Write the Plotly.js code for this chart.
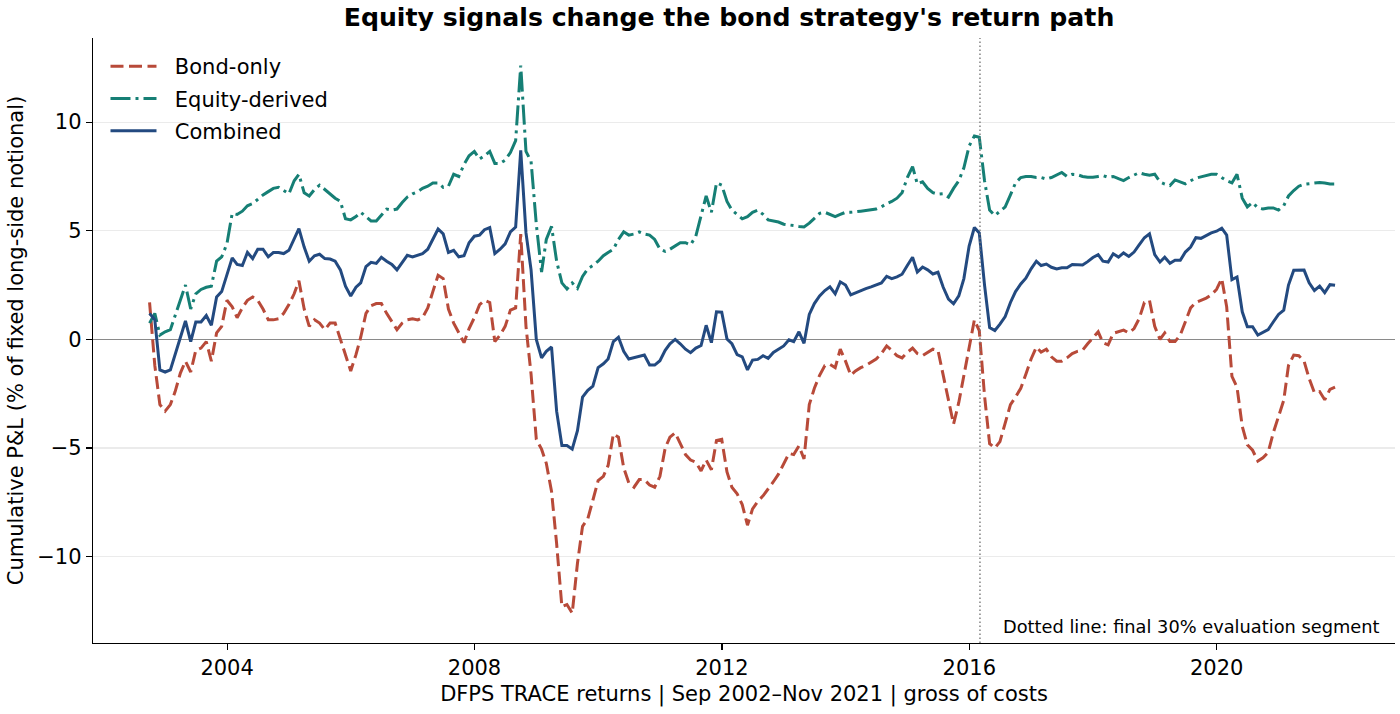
<!DOCTYPE html>
<html>
<head>
<meta charset="utf-8">
<script src="https://cdn.plot.ly/plotly-3.0.1.min.js"></script>
<style>
  html, body { margin: 0; padding: 0; background: #fff; }
  #grafico { width: 1400px; height: 714px; }
</style>
</head>
<body>
<div id="grafico"></div>
<script>
// monthly cumulative P&L, Sep 2002 .. Nov 2021 (month-end)
const primeiroAno = 2002;
const primeiroMes = 9;
const totalMeses = 231;

const bondOnly = [
	1.7, -1.2, -3.0, -3.3,
	-3.0, -2.4, -1.55, -1.0, -1.5, -0.5, -0.4, -0.1, -1.0, 0.3, 0.6, 1.8,
	1.5, 1.0, 1.45, 1.8, 1.95, 1.8, 1.4, 0.9, 0.9, 0.95, 1.2, 1.6,
	2.1, 2.7, 1.4, 0.6, 0.9, 0.75, 0.45, 0.75, 0.75, 0.0, -0.8, -1.45,
	-0.7, 0.1, 1.2, 1.55, 1.65, 1.65, 1.2, 0.8, 0.45, 0.75, 0.9, 0.95,
	0.9, 1.0, 1.45, 2.2, 2.95, 2.8, 1.4, 0.75, 0.3, -0.15, 0.5, 1.0,
	1.6, 1.8, 1.7, -0.1, 0.2, 0.6, 1.35, 1.45, 4.85, 0.6, -1.6, -4.6,
	-5.05, -5.7, -7.0, -9.4, -12.3, -12.2, -12.6, -10.3, -8.6, -8.25, -7.4, -6.5,
	-6.3, -5.8, -4.35, -4.5, -5.9, -6.6, -6.8, -6.45, -6.45, -6.7, -6.8, -6.3,
	-5.0, -4.5, -4.3, -4.8, -5.3, -5.55, -5.65, -6.05, -5.55, -6.0, -4.65, -4.6,
	-6.1, -6.8, -7.1, -7.6, -8.55, -7.8, -7.45, -7.2, -6.9, -6.55, -6.2, -5.7,
	-5.25, -5.3, -4.9, -5.5, -3.0, -2.25, -1.65, -1.2, -1.15, -1.3, -0.45, -1.0,
	-1.65, -1.45, -1.3, -1.2, -1.05, -0.9, -0.65, -0.3, -0.5, -0.75, -0.85, -0.6,
	-0.4, -0.65, -0.75, -0.6, -0.45, -0.5, -1.7, -2.8, -3.9, -2.9, -1.6, -0.3,
	0.9, 0.4, -2.6, -4.8, -5.0, -4.7, -3.85, -3.0, -2.65, -2.25, -1.6, -0.9,
	-0.35, -0.58, -0.45, -0.8, -1.0, -1.0, -0.85, -0.65, -0.55, -0.5, -0.2, 0.1,
	0.35, -0.15, -0.25, 0.28, 0.35, 0.43, 0.3, 0.5, 0.95, 1.7, 1.8, 0.6,
	0.0, 0.3, -0.1, -0.1, 0.2, 0.85, 1.45, 1.7, 1.8, 1.9, 2.05, 2.3,
	2.8, 1.5, -1.7, -2.2, -4.0, -4.85, -5.1, -5.6, -5.45, -5.2, -4.3, -3.6,
	-2.8, -1.2, -0.72, -0.75, -1.0, -1.8, -2.45, -2.4, -2.78, -2.3, -2.2
];

const equityDerived = [
	0.75, 1.2, 0.2, 0.35,
	0.45, 1.1, 1.8, 2.5, 1.4, 2.1, 2.3, 2.4, 2.45, 3.6, 3.8, 4.4,
	5.8, 5.75, 5.9, 6.15, 6.25, 6.45, 6.65, 6.8, 6.95, 7.0, 6.85, 6.7,
	7.3, 7.6, 6.75, 6.6, 6.9, 7.1, 6.9, 6.7, 6.5, 6.35, 5.55, 5.5,
	5.65, 5.85, 5.65, 5.45, 5.45, 5.7, 6.0, 5.95, 6.0, 6.3, 6.55, 6.7,
	6.8, 6.95, 7.05, 7.2, 7.2, 7.0, 7.05, 7.6, 7.5, 8.05, 8.45, 8.65,
	8.3, 8.45, 8.65, 8.1, 8.1, 8.25, 8.6, 9.15, 12.6, 8.65, 8.2, 5.3,
	3.1, 4.6, 5.2, 3.6, 2.6, 2.32, 2.6, 2.35, 2.9, 3.25, 3.4, 3.6,
	3.85, 4.0, 4.15, 4.6, 4.95, 4.8, 4.85, 4.95, 4.85, 4.8, 4.6, 4.15,
	4.05, 4.15, 4.3, 4.45, 4.45, 4.35, 4.75, 5.7, 6.6, 5.85, 7.2, 7.1,
	6.35, 5.95, 5.75, 5.55, 5.65, 5.85, 5.95, 5.75, 5.5, 5.45, 5.4, 5.3,
	5.28, 5.24, 5.2, 5.17, 5.35, 5.55, 5.8, 5.85, 5.75, 5.65, 5.75, 5.85,
	5.85, 5.86, 5.9, 5.93, 5.95, 6.0, 6.1, 6.25, 6.35, 6.5, 6.75, 7.45,
	7.95, 7.15, 7.25, 6.95, 6.75, 6.68, 6.7, 6.55, 6.95, 7.3, 7.9, 8.9,
	9.36, 9.3, 7.3, 5.95, 5.7, 5.9, 6.1, 6.65, 7.2, 7.45, 7.5, 7.5,
	7.45, 7.45, 7.38, 7.45, 7.58, 7.68, 7.5, 7.6, 7.58, 7.5, 7.46, 7.46,
	7.5, 7.54, 7.46, 7.5, 7.4, 7.31, 7.45, 7.58, 7.67, 7.6, 7.55, 7.6,
	7.25, 7.15, 7.08, 7.34, 7.25, 7.16, 7.3, 7.42, 7.48, 7.53, 7.6, 7.6,
	7.45, 7.3, 7.2, 7.6, 6.5, 6.1, 6.3, 6.05, 6.0, 6.05, 6.05, 5.95,
	6.15, 6.6, 6.85, 7.05, 7.14, 7.17, 7.19, 7.22, 7.2, 7.15, 7.15
];

const combined = [
	1.2, 0.9, -1.4, -1.5,
	-1.4, -0.7, 0.0, 0.85, -0.1, 0.8, 0.8, 1.1, 0.65, 1.95, 2.2, 3.0,
	3.75, 3.45, 3.4, 4.0, 3.72, 4.15, 4.15, 3.8, 4.0, 4.0, 3.95, 4.1,
	4.6, 5.1, 4.25, 3.6, 3.85, 3.92, 3.72, 3.7, 3.6, 3.2, 2.45, 2.0,
	2.4, 2.6, 3.35, 3.55, 3.5, 3.78, 3.6, 3.45, 3.2, 3.55, 3.87, 3.8,
	3.87, 3.95, 4.15, 4.6, 5.08, 4.86, 4.0, 4.1, 3.8, 3.85, 4.45, 4.75,
	4.8, 5.05, 5.15, 3.95, 4.15, 4.4, 4.95, 5.17, 8.7, 4.9, 3.2, 0.0,
	-0.85, -0.55, -0.35, -3.3, -4.88, -4.88, -5.05, -4.2, -2.65, -2.34, -2.15, -1.3,
	-1.12, -0.9, -0.1, 0.1, -0.55, -0.9, -0.85, -0.78, -0.72, -1.18, -1.18, -0.98,
	-0.5, -0.2, 0.0, -0.2, -0.45, -0.61, -0.4, -0.28, 0.65, -0.15, 1.27, 1.25,
	0.02, -0.2, -0.7, -0.8, -1.4, -0.95, -0.92, -0.75, -0.87, -0.6, -0.45, -0.3,
	-0.02, -0.1, 0.35, -0.18, 1.15, 1.65, 2.0, 2.25, 2.42, 2.1, 2.65, 2.5,
	2.05, 2.15, 2.25, 2.34, 2.42, 2.52, 2.6, 2.9, 2.8, 2.88, 3.0, 3.4,
	3.78, 3.1, 3.33, 3.2, 3.01, 3.09, 2.4, 1.85, 1.64, 2.0, 2.8, 4.3,
	5.15, 4.9, 2.5, 0.55, 0.41, 0.7, 1.05, 1.7, 2.2, 2.55, 2.82, 3.25,
	3.6, 3.4, 3.47, 3.32, 3.24, 3.3, 3.3, 3.45, 3.45, 3.42, 3.58, 3.77,
	3.9, 3.6, 3.56, 3.94, 3.79, 3.98, 3.82, 4.02, 4.35, 4.68, 4.86, 3.9,
	3.56, 3.78, 3.5, 3.64, 3.64, 4.02, 4.25, 4.68, 4.65, 4.78, 4.9, 4.98,
	5.12, 4.8, 2.75, 2.87, 1.27, 0.58, 0.58, 0.2, 0.32, 0.45, 0.8, 1.15,
	1.35, 2.5, 3.18, 3.2, 3.19, 2.6, 2.25, 2.45, 2.15, 2.52, 2.49
];

const nomesSeries = ['Bond-only', 'Equity-derived', 'Combined'];
const anosTicks = ['2004', '2008', '2012', '2016', '2020'];
const valoresTicksY = [-10, -5, 0, 5, 10];
const inicioAvaliacao = '2016-03-04';

// month-end dates for the x axis
function fimDoMes(ano, mes){
	const ultimoDia = new Date(Date.UTC(ano, mes, 0)).getUTCDate();
	return ano + '-' + String(mes).padStart(2, '0') + '-' + String(ultimoDia).padStart(2, '0');
}

function gerarDatas(){
	const datas = [];
	for(let i = 0; i < totalMeses; i++){
		const indice = (primeiroMes - 1) + i;
		const ano = primeiroAno + Math.floor(indice / 12);
		const mes = (indice % 12) + 1;
		datas.push(fimDoMes(ano, mes));
	}
	return datas;
}

// two no-break spaces push the legend text a bit away from the sample line
function rotuloLegenda(nome){
	return '\u00a0\u00a0' + nome;
}

function gerarGrafico(){
	const datas = gerarDatas();
	const fonte = 'DejaVu Sans, sans-serif';

	const traceBond = {
		x: datas, y: bondOnly,
		name: rotuloLegenda(nomesSeries[0]),
		legendgroup: 'g1',
		mode: 'lines',
		type: 'scatter',
		line: {color: '#b84a39', width: 3, dash: '13px,5.5px'}
	};
	const traceEquity = {
		x: datas, y: equityDerived,
		name: rotuloLegenda(nomesSeries[1]),
		legendgroup: 'g2',
		mode: 'lines',
		type: 'scatter',
		line: {color: '#167f75', width: 3, dash: '20px,5px,3px,5px'}
	};
	const traceCombined = {
		x: datas, y: combined,
		name: rotuloLegenda(nomesSeries[2]),
		legendgroup: 'g3',
		mode: 'lines',
		type: 'scatter',
		line: {color: '#234a80', width: 3}
	};

	const layout = {
		width: 1400,
		height: 714,
		margin: {l: 93, r: 5, t: 38, b: 71},
		paper_bgcolor: '#ffffff',
		plot_bgcolor: '#ffffff',
		font: {family: fonte, size: 21, color: '#000000'},
		title: {
			text: '<b>Equity signals change the bond strategy\'s return path</b>',
			font: {family: fonte, size: 25.2, color: '#000000'},
			x: 0.4885, xref: 'paper', xanchor: 'center',
			y: 0.976, yref: 'container', yanchor: 'middle'
		},
		xaxis: {
			type: 'date',
			range: ['2001-10-31', '2022-11-19'],
			tickvals: anosTicks.map(a => a + '-01-01'),
			ticktext: anosTicks,
			ticks: 'outside', ticklen: 6, tickwidth: 1.2, tickcolor: '#000',
			showline: true, linecolor: '#000', linewidth: 1.2,
			showgrid: false, zeroline: false,
			tickfont: {size: 21},
			title: {text: 'DFPS TRACE returns | Sep 2002–Nov 2021 | gross of costs', font: {size: 21}, standoff: 6}
		},
		yaxis: {
			range: [-13.97, 13.87],
			tickvals: valoresTicksY,
			ticks: 'outside', ticklen: 6, tickwidth: 1.2, tickcolor: '#000',
			showline: true, linecolor: '#000', linewidth: 1.2,
			showgrid: true, gridcolor: '#ebebeb', gridwidth: 1.2,
			zeroline: true, zerolinecolor: '#8a8a8a', zerolinewidth: 1.4,
			tickfont: {size: 21},
			title: {text: 'Cumulative P&L (% of fixed long-side notional)', font: {size: 21}, standoff: 8}
		},
		legend: {
			x: 0.0096, y: 0.9867, xanchor: 'left', yanchor: 'top',
			bgcolor: 'rgba(255,255,255,0)',
			font: {size: 21},
			itemwidth: 46,
			tracegroupgap: 2
		},
		shapes: [{
			type: 'line', xref: 'x', yref: 'paper',
			x0: inicioAvaliacao, x1: inicioAvaliacao, y0: 0, y1: 1,
			line: {color: '#7a7a7a', width: 1.4, dash: '1.5px,2.5px'}
		}],
		annotations: [{
			text: 'Dotted line: final 30% evaluation segment',
			xref: 'paper', yref: 'paper',
			x: 0.9892, y: 0.028, xanchor: 'right', yanchor: 'middle',
			showarrow: false,
			font: {family: fonte, size: 17.8, color: '#000'}
		}]
	};

	Plotly.newPlot('grafico', [traceBond, traceEquity, traceCombined], layout, {displayModeBar: false, staticPlot: true});
}

gerarGrafico();
</script>
</body>
</html>
